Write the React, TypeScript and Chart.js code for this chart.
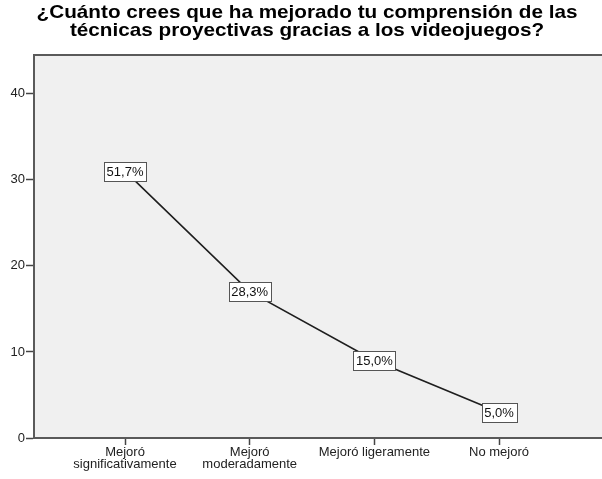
import React, { useEffect, useRef } from "react";
import { Chart, registerables } from "chart.js";

Chart.register(...registerables);

const titleLines = [
  "¿Cuánto crees que ha mejorado tu comprensión de las",
  "técnicas proyectivas gracias a los videojuegos?",
];
const categories: (string | string[])[] = [
  ["Mejoró", "significativamente"],
  ["Mejoró", "moderadamente"],
  "Mejoró ligeramente",
  "No mejoró",
];
const counts = [31, 17, 9, 3];
const percentLabels = ["51,7%", "28,3%", "15,0%", "5,0%"];
const yTicks = [0, 10, 20, 30, 40];

const FONT = "'Liberation Sans', Arial, sans-serif";

const decorPlugin = {
  id: "decor",
  beforeDraw(chart: any) {
    const { ctx, chartArea } = chart;
    ctx.save();
    ctx.fillStyle = "#f0f0f0";
    ctx.fillRect(chartArea.left, chartArea.top, chartArea.right - chartArea.left, chartArea.bottom - chartArea.top);
    ctx.restore();
  },
  afterDraw(chart: any) {
    const { ctx, chartArea } = chart;
    ctx.save();
    ctx.strokeStyle = "#5a5a5a";
    ctx.lineWidth = 2;
    ctx.beginPath();
    ctx.moveTo(chartArea.left - 1, chartArea.top);
    ctx.lineTo(chartArea.right, chartArea.top);
    ctx.stroke();
    ctx.save();
    ctx.fillStyle = "#000";
    ctx.font = `bold 19px ${FONT}`;
    ctx.textAlign = "center";
    ctx.textBaseline = "middle";
    ctx.translate(307, 0);
    ctx.scale(1.09, 1);
    titleLines.forEach((t, i) => ctx.fillText(t, 0, 13 + i * 18));
    ctx.restore();
    const meta = chart.getDatasetMeta(0);
    ctx.font = `13px ${FONT}`;
    ctx.textAlign = "center";
    ctx.textBaseline = "middle";
    meta.data.forEach((pt: any, i: number) => {
      const txt = percentLabels[i];
      const w = Math.ceil(ctx.measureText(txt).width) + 5;
      const h = 19;
      const x = Math.round(pt.x - w / 2) + 0.5;
      const y = Math.round(pt.y - h / 2) + 0.5;
      ctx.fillStyle = "#ffffff";
      ctx.fillRect(x, y, w, h);
      ctx.strokeStyle = "#555";
      ctx.lineWidth = 1;
      ctx.strokeRect(x, y, w, h);
      ctx.fillStyle = "#111";
      ctx.fillText(txt, pt.x, pt.y + 1);
    });
    ctx.restore();
  },
};

export default function App() {
  const ref = useRef<HTMLCanvasElement | null>(null);
  useEffect(() => {
    if (!ref.current) return;
    const chart = new Chart(ref.current, {
      type: "line",
      data: {
        datasets: [
          {
            data: counts.map((v, i) => ({ x: i, y: v })),
            borderColor: "#1e1e1e",
            borderWidth: 1.6,
            pointRadius: 0,
            tension: 0,
          },
        ],
      },
      options: {
        animation: false,
        responsive: false,
        maintainAspectRatio: false,
        layout: { padding: { top: 55, right: 0, left: 0, bottom: 0 } },
        plugins: { legend: { display: false }, title: { display: false }, tooltip: { enabled: false } },
        scales: {
          x: {
            type: "linear",
            min: -0.73,
            max: 3.826,
            afterBuildTicks: (axis: any) => {
              axis.ticks = categories.map((_, i) => ({ value: i }));
            },
            afterFit: (axis: any) => {
              axis.height = 41;
            },
            ticks: {
              autoSkip: false,
              maxRotation: 0,
              padding: 1,
              color: "#222",
              font: { family: FONT, size: 13, lineHeight: 0.95 },
              callback: (v: any) => categories[v as number] as any,
            },
            grid: { display: true, drawOnChartArea: false, drawTicks: true, tickLength: 7, tickColor: "#444", tickWidth: 1.5 },
            border: { display: true, color: "#5a5a5a", width: 2 },
          },
          y: {
            min: 0,
            max: 44.5,
            afterBuildTicks: (axis: any) => {
              axis.ticks = yTicks.map((v) => ({ value: v }));
            },
            afterFit: (axis: any) => {
              axis.width = 34;
            },
            ticks: {
              padding: 1,
              color: "#222",
              font: { family: FONT, size: 13 },
            },
            grid: { display: true, drawOnChartArea: false, drawTicks: true, tickLength: 8, tickColor: "#444", tickWidth: 1.5 },
            border: { display: true, color: "#5a5a5a", width: 2 },
          },
        },
      },
      plugins: [decorPlugin],
    } as any);
    return () => chart.destroy();
  }, []);
  return (
    <div style={{ position: "fixed", left: 0, top: 0, width: 602, height: 479, background: "#fff" }}>
      <canvas ref={ref} width={602} height={479} style={{ width: 602, height: 479 }} />
    </div>
  );
}
